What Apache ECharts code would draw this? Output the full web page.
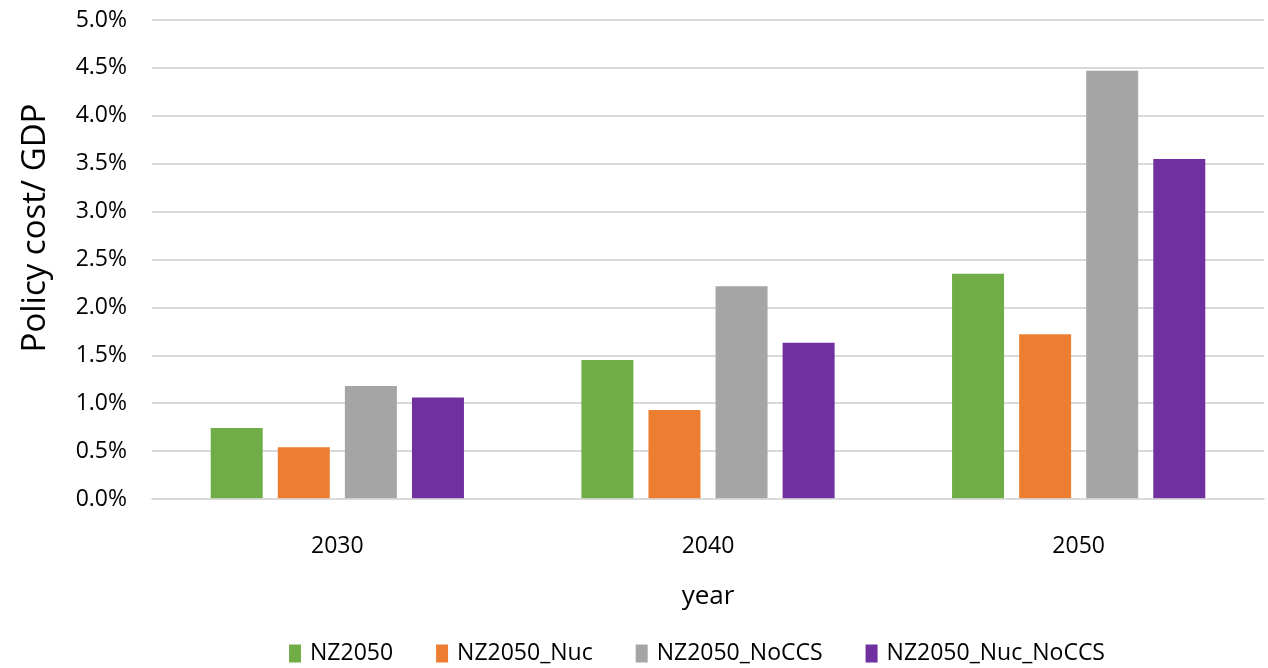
<!DOCTYPE html>
<html>
<head>
<meta charset="utf-8">
<style>
  html, body { margin: 0; padding: 0; background: #ffffff; }
  #chart { width: 1268px; height: 668px; }
</style>
<script src="https://cdn.jsdelivr.net/npm/echarts@6/dist/echarts.min.js"></script>
</head>
<body>
<div id="chart"></div>
<script>
// Policy cost as a share of GDP (%) by scenario and year
const years = ['2030', '2040', '2050'];
const nz2050 = [0.74, 1.45, 2.35];
const nz2050Nuc = [0.54, 0.93, 1.72];
const nz2050NoCCS = [1.18, 2.22, 4.47];
const nz2050NucNoCCS = [1.06, 1.63, 3.55];

const seriesNames = ['NZ2050', 'NZ2050_Nuc', 'NZ2050_NoCCS', 'NZ2050_Nuc_NoCCS'];
const seriesColors = ['#70AD47', '#ED7D31', '#A5A5A5', '#7030A0'];
const seriesValues = [nz2050, nz2050Nuc, nz2050NoCCS, nz2050NucNoCCS];

const FONT = '"Open Sans", "Noto Sans", sans-serif';

const chart = echarts.init(document.getElementById('chart'), null, { renderer: 'canvas' });

chart.setOption({
  backgroundColor: '#ffffff',
  animation: false,
  textStyle: { fontFamily: FONT },
  grid: { left: 152, right: 4, top: 20, bottom: 169 },
  legend: {
    left: 289,
    top: 642,
    padding: 0,
    itemWidth: 12,
    itemHeight: 18,
    itemGap: 43,
    icon: 'rect',
    data: seriesNames,
    textStyle: { fontFamily: FONT, fontSize: 23, color: '#000000', padding: [0, 0, 0, 4] }
  },
  xAxis: {
    type: 'category',
    data: years,
    z: 3,
    axisTick: { show: false },
    axisLine: { show: true, lineStyle: { color: 'rgba(217,217,217,0.8)', width: 2 } },
    axisLabel: { margin: 36, fontFamily: FONT, fontSize: 23, color: '#000000' },
    name: 'year',
    nameLocation: 'middle',
    nameGap: 85,
    nameTextStyle: { fontFamily: FONT, fontSize: 26, color: '#000000' }
  },
  yAxis: {
    type: 'value',
    min: 0,
    max: 5,
    interval: 0.5,
    axisLine: { show: false },
    axisTick: { show: false },
    splitLine: { show: true, lineStyle: { color: '#d9d9d9', width: 2 } },
    axisLabel: {
      margin: 25,
      fontFamily: FONT,
      fontSize: 23,
      color: '#000000',
      formatter: v => v.toFixed(1) + '%'
    }
  },
  graphic: [{
    type: 'text',
    x: 36,
    y: 228,
    rotation: Math.PI / 2,
    style: {
      text: 'Policy cost/ GDP',
      font: '33px ' + FONT,
      fill: '#000000',
      textAlign: 'center',
      textVerticalAlign: 'middle'
    }
  }],
  series: seriesNames.map((name, i) => ({
    name: name,
    type: 'bar',
    data: seriesValues[i],
    barWidth: 52,
    barGap: '29%',
    itemStyle: { color: seriesColors[i] }
  }))
});
</script>
</body>
</html>
